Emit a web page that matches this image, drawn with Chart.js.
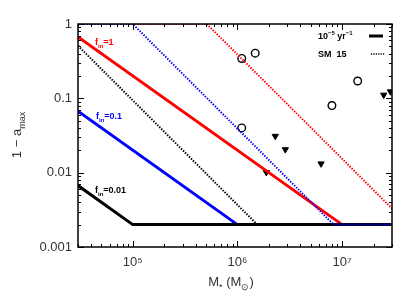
<!DOCTYPE html>
<html><head><meta charset="utf-8">
<script src="https://cdn.jsdelivr.net/npm/chart.js@4/dist/chart.umd.min.js"></script>
<style>html,body{margin:0;padding:0;background:#fff}#wrap{width:415px;height:297px}</style>
</head><body><div id="wrap"><canvas id="c" width="415" height="297"></canvas></div>
<script>
// axis ranges and tick labels
const xMin = 3e4, xMax = 3e7;
const yMin = 0.001, yMax = 1;
const xTickValues = [1e5, 1e6, 1e7];
const xTickLabels = ['10\u2075', '10\u2076', '10\u2077'];
const yTickValues = [0.001, 0.01, 0.1, 1];
const yTickLabels = ['0.001', '0.01', '0.1', '1'];

// 10^-5 yr^-1 model (solid lines), vertices of each curve
const massSolidF1 = [3e4, 1e7, 3e7];
const valSolidF1 = [0.67, 0.002, 0.002];
const massSolidF01 = [3e4, 1e6, 3e7];
const valSolidF01 = [0.067, 0.002, 0.002];
const massSolidF001 = [3e4, 1e5, 3e7];
const valSolidF001 = [0.0067, 0.002, 0.002];

// SM 15 model (dotted lines)
const massDotF1 = [3e4, 5.1e5, 3e7];
const valDotF1 = [1, 1, 0.0033];
const massDotF01 = [3e4, 1e5, 8.3e6, 3e7];
const valDotF01 = [1, 1, 0.002, 0.002];
const massDotF001 = [3e4, 1.55e6, 3e7];
const valDotF001 = [0.51, 0.002, 0.002];

// observed points
const massCircles = [1.1e6, 1.48e6, 1.1e6, 1.41e7, 8.0e6];
const valCircles = [0.344, 0.405, 0.040, 0.171, 0.080];
const massTriangles = [2.3e6, 1.89e6, 2.87e6, 6.3e6, 2.5e7, 2.9e7];
const valTriangles = [0.031, 0.0101, 0.0205, 0.0132, 0.111, 0.123];

const pts = (xs, ys) => xs.map((x, i) => ({x, y: ys[i]}));

function lineDs(xs, ys, color, dotted) {
  return {
    type: 'line', data: pts(xs, ys), borderColor: color,
    borderWidth: dotted ? 2 : 3, borderDash: dotted ? [1.4, 1.4] : [],
    pointRadius: 0, fill: false, tension: 0
  };
}

function drawRich(ctx, parts, x, y, size, weight, color, align) {
  const fam = '"Liberation Sans", Arial, sans-serif';
  const fontFor = m => weight + ' ' + (m ? Math.round(size * 0.68) : size) + 'px ' + fam;
  let w = 0;
  parts.forEach(p => { ctx.font = fontFor(p[1]); w += ctx.measureText(p[0]).width; });
  let cx = align === 'center' ? x - w / 2 : (align === 'right' ? x - w : x);
  ctx.fillStyle = color; ctx.textAlign = 'left'; ctx.textBaseline = 'alphabetic';
  parts.forEach(p => {
    ctx.font = fontFor(p[1]);
    const dy = p[1] === 1 ? size * 0.3 : (p[1] === 2 ? -size * 0.42 : 0);
    ctx.fillText(p[0], cx, y + dy);
    cx += ctx.measureText(p[0]).width;
  });
}

function logTicks(min, max) {
  const out = [];
  for (let e = Math.floor(Math.log10(min)); e <= Math.ceil(Math.log10(max)); e++) {
    for (let k = 1; k <= 9; k++) {
      const v = k * Math.pow(10, e);
      if (v >= min * 0.9999 && v <= max * 1.0001) out.push({v, major: k === 1});
    }
  }
  return out;
}

const framePlugin = {
  id: 'frame',
  afterDatasetsDraw(chart) {
    const ctx = chart.ctx, a = chart.chartArea;
    const xs = chart.scales.x, ys = chart.scales.y;
    ctx.save();
    ctx.strokeStyle = '#000';
    ctx.lineWidth = 1;
    logTicks(xMin, xMax).forEach(t => {
      const px = Math.round(xs.getPixelForValue(t.v)) + 0.5, L = t.major ? 6 : 3;
      ctx.beginPath();
      ctx.moveTo(px, a.bottom); ctx.lineTo(px, a.bottom - L);
      ctx.moveTo(px, a.top); ctx.lineTo(px, a.top + L);
      ctx.stroke();
    });
    logTicks(yMin, yMax).forEach(t => {
      const py = Math.round(ys.getPixelForValue(t.v)) + 0.5, L = t.major ? 6 : 3;
      ctx.beginPath();
      ctx.moveTo(a.left, py); ctx.lineTo(a.left + L, py);
      ctx.moveTo(a.right, py); ctx.lineTo(a.right - L, py);
      ctx.stroke();
    });
    ctx.lineWidth = 1.5;
    ctx.strokeRect(a.left, a.top, a.right - a.left, a.bottom - a.top);

    // legend
    drawRich(ctx, [['10', 0], ['\u22125', 2], [' yr', 0], ['\u22121', 2]], 318, 39, 9, 'bold', '#000', 'left');
    ctx.lineWidth = 3; ctx.setLineDash([]);
    ctx.beginPath(); ctx.moveTo(369, 36); ctx.lineTo(383, 36); ctx.stroke();
    drawRich(ctx, [['SM  15', 0]], 318, 57, 9, 'bold', '#000', 'left');
    ctx.lineWidth = 1.5; ctx.setLineDash([1.2, 1.2]);
    ctx.beginPath(); ctx.moveTo(371, 54); ctx.lineTo(385, 54); ctx.stroke();
    ctx.setLineDash([]);

    // curve annotations
    drawRich(ctx, [['f', 0], ['in', 1], ['=1', 0]], 95, 45, 9, 'bold', '#ff0000', 'left');
    drawRich(ctx, [['f', 0], ['in', 1], ['=0.1', 0]], 96, 119, 9, 'bold', '#0000ff', 'left');
    drawRich(ctx, [['f', 0], ['in', 1], ['=0.01', 0]], 95, 193, 9, 'bold', '#000', 'left');

    // axis titles
    drawRich(ctx, [['M', 0], ['*', 1], [' (M', 0], ['\u2299', 1], [')', 0]], 231, 286, 13, 'normal', '#333', 'center');
    ctx.translate(21, 135);
    ctx.rotate(-Math.PI / 2);
    drawRich(ctx, [['1 \u2212 a', 0], ['max', 1]], 0, 0, 13, 'normal', '#333', 'center');
    ctx.restore();
  }
};

new Chart(document.getElementById('c'), {
  type: 'scatter',
  data: {
    datasets: [
      lineDs(massDotF01, valDotF01, '#0000ff', true),
      lineDs(massDotF1, valDotF1, '#ff0000', true),
      lineDs(massDotF001, valDotF001, '#000000', true),
      lineDs(massSolidF001, valSolidF001, '#000000', false),
      lineDs(massSolidF1, valSolidF1, '#ff0000', false),
      lineDs(massSolidF01, valSolidF01, '#0000ff', false),
      { type: 'scatter', data: pts(massCircles, valCircles), pointStyle: 'circle', pointRadius: 3.8,
        borderColor: '#000', borderWidth: 1.4, backgroundColor: 'rgba(0,0,0,0)' },
      { type: 'scatter', data: pts(massTriangles, valTriangles), pointStyle: 'triangle', rotation: 180,
        pointRadius: 3.6, borderColor: '#000', borderWidth: 1, backgroundColor: '#000' }
    ]
  },
  options: {
    responsive: false, animation: false, devicePixelRatio: 1,
    layout: { padding: { left: 0, top: 24, right: 23, bottom: 0 } },
    plugins: { legend: { display: false }, tooltip: { enabled: false } },
    scales: {
      x: {
        type: 'logarithmic', min: xMin, max: xMax,
        afterFit: s => { s.height = 50; },
        afterBuildTicks: s => { s.ticks = xTickValues.map(v => ({value: v})); },
        grid: { display: false, drawTicks: false },
        border: { display: false },
        ticks: { autoSkip: false, maxRotation: 0, padding: 8, color: '#333',
          font: { family: '"Liberation Sans", Arial, sans-serif', size: 13 },
          callback: v => { const i = xTickValues.indexOf(v); return i >= 0 ? xTickLabels[i] : ''; } }
      },
      y: {
        type: 'logarithmic', min: yMin, max: yMax,
        afterFit: s => { s.width = 78; },
        afterBuildTicks: s => { s.ticks = yTickValues.map(v => ({value: v})); },
        grid: { display: false, drawTicks: false },
        border: { display: false },
        ticks: { autoSkip: false, padding: 6, color: '#333',
          font: { family: '"Liberation Sans", Arial, sans-serif', size: 13 },
          callback: v => { const i = yTickValues.indexOf(v); return i >= 0 ? yTickLabels[i] : ''; } }
      }
    }
  },
  plugins: [framePlugin]
});
</script></body></html>
